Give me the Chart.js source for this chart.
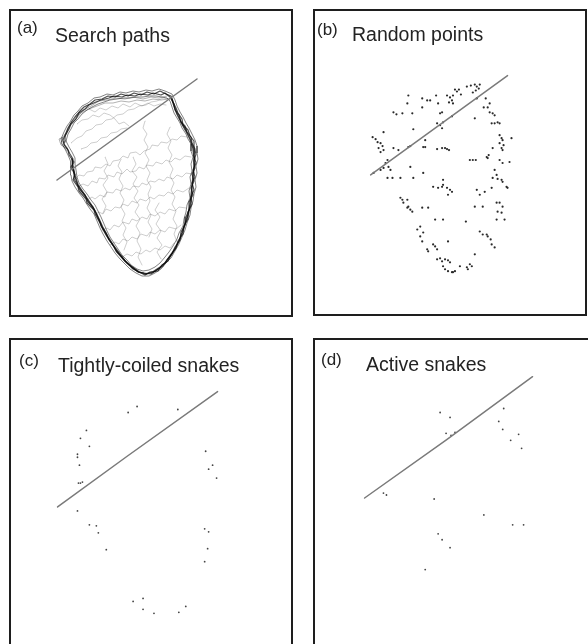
<!DOCTYPE html>
<html>
<head>
<meta charset="utf-8">
<script src="https://cdn.jsdelivr.net/npm/chart.js@4/dist/chart.umd.min.js"></script>
<style>
  html, body { margin: 0; padding: 0; background: #fff; width: 588px; height: 644px; overflow: hidden; }
  canvas { position: absolute; display: block; }
</style>
</head>
<body>
<canvas id="panelA" width="284" height="308" style="left:9px;top:9px"></canvas>
<canvas id="panelB" width="274" height="307" style="left:313px;top:9px"></canvas>
<canvas id="panelC" width="284" height="320" style="left:9px;top:338px"></canvas>
<canvas id="panelD" width="290" height="320" style="left:313px;top:338px"></canvas>
<script>
// Panel captions
const panelLetters = ['(a)', '(b)', '(c)', '(d)'];
const panelTitles = ['Search paths', 'Random points', 'Tightly-coiled snakes', 'Active snakes'];

// Fitted boundary line in each panel (x, y in panel units, y measured downward)
const lineA = [[48, 171], [188, 70]];
const lineB = [[57, 166], [195, 66]];
const lineC = [[48, 169], [118, 118], [209, 53]];
const lineD = [[51, 160], [134, 101], [220, 38]];

// (a) repeated passes of the search round the outline
const outlinePass1 = [[54,131],[57,124],[59,119],[63,112],[66,108],[71,102],[75,98],[81,95],[86,91],[93,90],[99,87],[106,88],[112,85],[119,87],[125,84],[132,86],[138,83],[145,85],[151,82],[157,85],[162,87],[164,93],[167,99],[169,104],[173,110],[174,116],[179,121],[181,127],[185,132],[185,139],[187,145],[185,152],[186,159],[183,165],[185,172],[182,179],[184,186],[180,193],[180,201],[177,208],[176,216],[172,223],[171,231],[166,238],[163,245],[158,251],[154,257],[148,261],[142,265],[135,264],[129,263],[123,258],[118,254],[113,248],[108,243],[104,236],[100,231],[97,224],[93,218],[90,211],[87,204],[84,198],[79,193],[76,186],[71,181],[68,175],[65,170],[65,163],[63,157],[64,150],[61,145],[58,139],[55,135],[54,131]];
const outlinePass2 = [[52,130],[55,123],[58,117],[61,113],[65,106],[69,102],[73,97],[79,94],[85,89],[91,88],[98,85],[104,86],[111,83],[117,84],[124,82],[130,83],[137,81],[143,82],[150,80],[156,82],[163,85],[166,91],[168,97],[171,103],[174,108],[177,114],[180,119],[183,125],[186,131],[188,137],[188,144],[189,150],[187,157],[188,164],[186,171],[187,178],[185,185],[184,192],[182,199],[181,206],[178,214],[176,221],[173,228],[170,235],[166,242],[162,249],[157,254],[152,260],[146,264],[140,267],[133,267],[127,264],[121,260],[116,255],[111,250],[106,244],[102,238],[98,232],[94,225],[91,219],[88,212],[85,205],[81,200],[77,194],[74,189],[70,184],[66,178],[63,172],[62,166],[61,159],[62,152],[59,146],[56,140],[53,135],[52,130]];
const outlinePass3 = [[57,132],[59,125],[62,120],[65,114],[69,110],[73,105],[78,101],[83,98],[89,95],[95,93],[101,91],[108,90],[114,89],[121,89],[127,88],[134,88],[140,87],[147,87],[153,88],[158,89],[161,92],[163,98],[165,104],[168,109],[171,114],[173,119],[177,125],[179,130],[182,135],[182,142],[184,148],[182,155],[183,162],[181,168],[182,175],[180,182],[181,189],[178,196],[177,203],[175,210],[174,217],[170,224],[168,230],[164,237],[160,243],[156,248],[151,254],[146,258],[140,261],[134,262],[128,260],[122,256],[118,251],[113,246],[109,240],[105,234],[101,228],[98,222],[95,215],[92,208],[89,202],[86,196],[82,191],[78,185],[74,180],[70,174],[68,168],[67,161],[66,155],[66,149],[63,143],[60,138],[57,132]];
const outlinePass4 = [[55,133],[56,127],[60,120],[62,115],[67,110],[70,104],[76,100],[80,96],[87,93],[92,91],[100,89],[105,87],[113,88],[118,86],[126,87],[131,85],[139,86],[144,84],[152,86],[156,84],[161,88],[165,95],[166,101],[170,106],[172,113],[176,117],[178,123],[182,128],[183,134],[186,140],[185,147],[187,154],[184,161],[186,168],[183,174],[185,181],[182,188],[183,195],[179,203],[179,210],[175,217],[174,225],[169,232],[167,239],[162,246],[159,252],[153,256],[149,262],[141,263],[136,266],[128,262],[124,260],[117,253],[114,250],[107,242],[105,238],[99,229],[97,226],[92,217],[91,214],[86,205],[85,201],[78,194],[77,190],[70,182],[69,178],[64,171],[66,166],[62,158],[65,153],[60,146],[59,141],[55,136],[55,133]];

// (a) heavier trace along the lower left and right walls
const lowerWallTrace = [[63,150],[64,158],[66,167],[69,176],[75,185],[81,194],[86,202],[90,210],[94,219],[99,228],[104,236],[110,244],[116,252],[123,258],[130,263],[137,265],[144,263],[150,259],[156,254],[161,247],[166,240],[170,232],[173,224],[176,215],[179,206],[181,197],[182,188],[183,178],[184,168],[185,158],[185,148],[184,139],[181,130],[177,122],[172,113],[168,105],[165,97],[163,90]];

// (a) looser strands over the upper lobe
const upperStrands = [
  [[56,128],[60,118],[66,111],[72,104],[80,100],[88,97],[96,94],[104,94],[112,92],[120,93],[128,91],[136,92],[144,90],[152,91],[160,90]],
  [[53,133],[54,128],[58,122],[62,114],[68,107],[75,101],[82,97],[90,92],[98,91],[107,89],[116,90],[124,88],[134,90],[142,88],[150,89],[158,87]],
  [[58,140],[52,136],[50,130],[54,128],[52,134],[58,142]]
];

// (a) wandering paths across the interior
const interiorPaths = [
  [[66,170],[70,166],[75,167],[78,163],[84,162],[86,158],[92,159],[97,155],[101,157],[104,152],[110,151],[114,147],[119,149],[121,144],[127,143],[131,146],[135,142],[141,140],[143,136],[149,137],[152,133],[158,134],[163,130],[168,131],[172,127],[178,128]],
  [[70,177],[74,175],[79,177],[83,172],[88,174],[90,169],[96,170],[99,166],[105,168],[108,163],[113,165],[118,160],[121,163],[127,162],[130,158],[135,160],[138,156],[144,157],[147,153],[153,155],[157,151],[162,153],[166,149],[171,151],[176,147],[182,148]],
  [[78,191],[83,188],[86,190],[91,186],[96,188],[98,183],[104,184],[107,180],[112,182],[116,179],[121,181],[124,177],[130,178],[133,174],[138,176],[141,172],[146,173],[150,170],[155,172],[158,168],[164,170],[168,166],[173,168],[177,164],[183,165]],
  [[86,206],[90,203],[94,205],[97,200],[102,202],[106,198],[111,199],[114,195],[119,197],[123,192],[128,194],[131,190],[137,192],[141,188],[145,190],[150,186],[155,187],[159,183],[164,185],[168,181],[174,183],[180,179]],
  [[93,221],[98,219],[101,221],[105,216],[110,218],[114,213],[120,215],[123,210],[128,212],[133,208],[138,210],[141,205],[146,207],[151,203],[156,205],[160,200],[166,202],[170,198],[177,199]],
  [[101,236],[106,233],[110,235],[114,230],[119,232],[123,228],[128,230],[132,225],[138,227],[141,223],[146,225],[151,221],[156,223],[160,218],[167,220],[172,216]],
  [[113,248],[118,245],[123,247],[127,243],[132,245],[137,241],[141,243],[146,239],[151,241],[156,237],[161,239],[165,234]],
  [[136,112],[134,119],[138,125],[135,131],[139,138],[136,144],[140,151],[137,157],[141,164],[138,171],[142,178],[139,185],[141,192],[138,199],[142,206],[139,213],[143,220],[140,228]],
  [[112,150],[109,157],[113,163],[110,170],[114,177],[111,184],[115,191],[112,198],[116,205],[113,212],[117,219],[114,226],[118,233],[115,241]],
  [[161,118],[158,125],[162,132],[159,139],[163,146],[160,153],[164,160],[161,167],[165,174],[162,181],[166,188],[163,195],[167,202],[164,210],[168,217],[165,225],[168,233]],
  [[62,134],[68,129],[73,127],[77,122],[83,120],[87,116],[93,115],[97,111],[103,110],[108,106],[114,105],[119,101],[125,100],[130,97],[137,96],[142,93],[148,92],[154,89],[160,90]],
  [[68,115],[73,111],[79,110],[84,106],[90,108],[95,104],[101,106],[106,110],[110,115],[115,113],[120,117]],
  [[80,100],[86,103],[91,99],[97,101],[103,97],[109,99],[114,95],[121,98],[126,94],[133,97],[139,94],[145,97],[151,95],[157,96]],
  [[96,148],[99,155],[95,162],[99,169],[94,176],[98,183],[93,190],[97,197],[94,204]],
  [[152,250],[148,243],[153,236],[148,229],[152,222],[147,215],[151,208],[146,201],[150,194]],
  [[124,148],[127,155],[123,162],[128,168],[124,175],[129,182],[125,189],[130,196],[126,203],[131,210],[127,217],[131,224],[128,232],[132,240],[129,248],[133,256]],
  [[72,140],[78,138],[82,134],[88,133],[92,129],[98,128],[102,124],[108,123],[112,120],[118,119]]
];

// (b) randomly placed points
const randomPoints = [
  [142,80],[144,82],[146,80],[154,77],[158,76],[162,75],[164,77],[163,81],[166,79],[160,83],[167,75],[148,85],
  [134,86],[137,88],[140,86],[139,91],[123,86],[125,94],[117,91],[109,89],[114,91],[109,98],
  [95,86],[94,94],[99,104],[80,103],[83,105],[89,104],[127,104],[129,103],[140,94],[136,93],
  [164,89],[173,89],[177,94],[175,98],[171,98],[177,103],[180,104],[182,106],[162,109],[139,107],
  [124,114],[127,116],[129,119],[130,113],[100,120],[70,123],
  [59,128],[62,130],[64,133],[67,134],[69,137],[65,139],[70,141],[67,143],[80,139],[85,141],
  [95,138],[97,137],[110,138],[112,138],[124,140],[129,139],[132,139],[134,140],[136,141],[112,131],
  [179,114],[182,114],[185,113],[187,114],[187,126],[189,129],[190,131],[187,134],[191,136],[189,139],[190,141],
  [199,129],[180,139],[174,148],[175,149],[176,146],[157,151],[160,151],[163,151],[187,151],[190,154],[197,153],
  [74,151],[72,154],[75,158],[70,159],[67,161],[60,164],[77,161],[79,169],[74,169],[87,169],[97,158],[100,169],[110,164],
  [182,161],[184,166],[180,169],[185,170],[189,171],[190,173],[194,178],[195,179],
  [130,171],[120,178],[125,179],[129,178],[130,176],[134,179],[137,181],[139,183],[135,186],
  [164,181],[167,186],[172,183],[179,179],
  [87,189],[89,191],[94,191],[90,194],[95,198],[94,199],[97,201],[99,203],[109,199],[115,199],
  [122,211],[130,211],[153,213],[162,198],[170,198],
  [184,194],[187,194],[190,198],[185,203],[189,204],[192,211],[184,211],
  [107,218],[104,221],[110,224],[107,228],[109,233],
  [167,223],[170,226],[174,226],[175,228],[178,231],[179,236],[182,239],[135,233],
  [114,241],[115,243],[122,238],[124,241],[120,236],[162,246],
  [124,251],[127,250],[132,251],[135,252],[129,253],[137,254],
  [130,258],[132,261],[135,263],[139,264],[140,264],[142,263],[147,258],
  [154,259],[155,261],[159,258],[157,256]
];

// (c) tightly-coiled snake positions
const coiledPoints = [
  [119,74],[128,68],[169,71],[77,92],[71,100],[80,108],[68,116],[68,119],[70,127],
  [69,145],[71,145],[73,144],[68,173],[80,187],[87,188],[89,195],[97,212],
  [197,113],[204,127],[200,131],[208,140],[196,191],[200,194],[199,211],[196,224],
  [124,264],[134,261],[134,272],[145,276],[170,275],[177,269]
];

// (d) active snake positions
const activePoints = [
  [127,74],[137,79],[133,95],[138,97],[142,94],[191,70],[186,83],[190,91],[198,102],[206,96],[209,110],
  [70,155],[73,157],[121,161],[171,177],[200,187],[211,187],[125,196],[129,202],[137,210],[112,232]
];

const toXY = arr => arr.map(p => ({ x: p[0], y: p[1] }));

const ink = '#232323';
const fitLineStyle = { borderColor: '#7a7a7a', borderWidth: 1.5 };

function pathDataset(points, color, width) {
  return {
    type: 'line', data: toXY(points), showLine: true, fill: false,
    borderColor: color, borderWidth: width, pointRadius: 0, tension: 0, order: 2,
    borderJoinStyle: 'round', borderCapStyle: 'round'
  };
}
function dotDataset(points, color, radius) {
  return {
    data: toXY(points), backgroundColor: color, borderWidth: 0,
    pointRadius: radius, pointHoverRadius: radius, order: 1
  };
}
function fitLineDataset(points) {
  return Object.assign(pathDataset(points, fitLineStyle.borderColor, fitLineStyle.borderWidth), { order: 0 });
}

// Frame and captions for each panel
const panelDecor = {
  id: 'panelDecor',
  afterDraw(chart, args, opts) {
    const ctx = chart.ctx;
    const w = chart.width, h = chart.height;
    ctx.save();
    ctx.strokeStyle = '#1e1e1e';
    ctx.lineWidth = 2;
    ctx.strokeRect(1, 1, w - 2, h - 2);
    ctx.fillStyle = ink;
    ctx.textBaseline = 'alphabetic';
    ctx.textAlign = 'left';
    ctx.font = '17px "Liberation Sans", Arial, sans-serif';
    ctx.fillText(opts.letter, opts.letterX, opts.letterY);
    ctx.font = '19.5px "Liberation Sans", Arial, sans-serif';
    ctx.fillText(opts.title, opts.titleX, opts.titleY);
    ctx.restore();
  }
};

function makePanel(id, datasets, caption) {
  const canvas = document.getElementById(id);
  return new Chart(canvas, {
    type: 'scatter',
    data: { datasets },
    options: {
      responsive: false,
      animation: false,
      events: [],
      layout: { padding: 0 },
      plugins: {
        legend: { display: false },
        tooltip: { enabled: false },
        panelDecor: caption
      },
      scales: {
        x: { type: 'linear', display: false, min: 0, max: canvas.width },
        y: { type: 'linear', display: false, min: 0, max: canvas.height, reverse: true }
      }
    },
    plugins: [panelDecor]
  });
}

// (a) Search paths
const loopColor = 'rgba(5,5,5,0.7)';
const softLoopColor = 'rgba(10,10,10,0.5)';
const strandColor = 'rgba(40,40,40,0.4)';
const pathColor = 'rgba(40,40,40,0.33)';
makePanel('panelA', [
  fitLineDataset(lineA),
  pathDataset(outlinePass1, loopColor, 1.2),
  pathDataset(outlinePass2, softLoopColor, 1.0),
  pathDataset(outlinePass3, softLoopColor, 1.0),
  pathDataset(outlinePass4, loopColor, 1.2),
  pathDataset(lowerWallTrace, 'rgba(0,0,0,0.75)', 1.6),
  ...upperStrands.map(p => pathDataset(p, strandColor, 0.9)),
  ...interiorPaths.map(p => pathDataset(p, pathColor, 0.7))
], { letter: panelLetters[0], title: panelTitles[0], letterX: 8, letterY: 24, titleX: 46, titleY: 33 });

// (b) Random points
makePanel('panelB', [
  fitLineDataset(lineB),
  dotDataset(randomPoints, '#2a2a2a', 1.1)
], { letter: panelLetters[1], title: panelTitles[1], letterX: 4, letterY: 26, titleX: 39, titleY: 32 });

// (c) Tightly-coiled snakes
makePanel('panelC', [
  fitLineDataset(lineC),
  dotDataset(coiledPoints, '#444', 0.9)
], { letter: panelLetters[2], title: panelTitles[2], letterX: 10, letterY: 28, titleX: 49, titleY: 34 });

// (d) Active snakes
makePanel('panelD', [
  fitLineDataset(lineD),
  dotDataset(activePoints, '#444', 0.9)
], { letter: panelLetters[3], title: panelTitles[3], letterX: 8, letterY: 27, titleX: 53, titleY: 33 });
</script>
</body>
</html>
